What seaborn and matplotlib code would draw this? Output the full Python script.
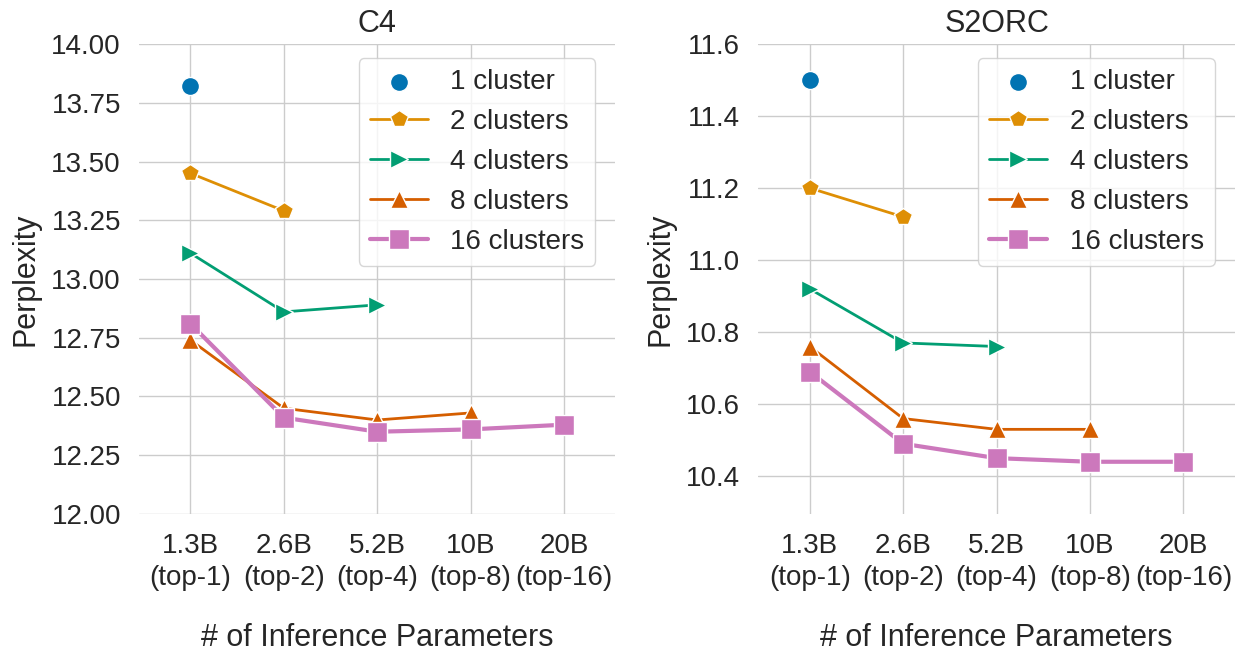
import numpy as np
import pandas as pd
import matplotlib
matplotlib.use("Agg")
import matplotlib.pyplot as plt
import seaborn as sns

x_labels = ["1.3B\n(top-1)", "2.6B\n(top-2)", "5.2B\n(top-4)", "10B\n(top-8)", "20B\n(top-16)"]
series_names = ["1 cluster", "2 clusters", "4 clusters", "8 clusters", "16 clusters"]

c4_1 = [13.82]
c4_2 = [13.45, 13.29]
c4_4 = [13.11, 12.86, 12.89]
c4_8 = [12.74, 12.45, 12.40, 12.43]
c4_16 = [12.81, 12.41, 12.35, 12.36, 12.38]

s2_1 = [11.50]
s2_2 = [11.20, 11.12]
s2_4 = [10.92, 10.77, 10.76]
s2_8 = [10.76, 10.56, 10.53, 10.53]
s2_16 = [10.69, 10.49, 10.45, 10.44, 10.44]

c4_ticks = [12.00, 12.25, 12.50, 12.75, 13.00, 13.25, 13.50, 13.75, 14.00]
s2_ticks = [10.4, 10.6, 10.8, 11.0, 11.2, 11.4, 11.6]

sns.set_theme(style="whitegrid", palette="colorblind")
plt.rcParams["font.family"] = ["Liberation Sans", "DejaVu Sans"]

colors = sns.color_palette("colorblind")
markers = ["o", "p", ">", "^", "s"]
lws = [2.0, 2.0, 2.0, 2.0, 3.0]
msizes = [13, 13, 13, 13, 14]

fig, axes = plt.subplots(1, 2, figsize=(12.36, 6.53), dpi=100)
fig.subplots_adjust(left=0.1125, right=0.999, top=0.9326, bottom=0.2129, wspace=0.30)


def draw(ax, data, title, ticks, ylim, fmt):
    for i, (name, vals) in enumerate(zip(series_names, data)):
        df = pd.DataFrame({"x": np.arange(len(vals)), "y": vals})
        if len(vals) == 1:
            sns.scatterplot(data=df, x="x", y="y", ax=ax, color=colors[i], marker=markers[i],
                            s=msizes[i] ** 2, edgecolor="white", linewidth=1, label=name, zorder=3)
        else:
            sns.lineplot(data=df, x="x", y="y", ax=ax, color=colors[i], marker=markers[i],
                         markersize=msizes[i], markeredgecolor="white", markeredgewidth=1,
                         linewidth=lws[i], label=name, zorder=3)
    ax.set_title(title, fontsize=22, pad=9)
    ax.set_xticks(range(len(x_labels)))
    ax.set_xticklabels(x_labels, fontsize=20, linespacing=1.3)
    ax.set_yticks(ticks)
    ax.set_yticklabels([fmt.format(t) for t in ticks], fontsize=20)
    ax.set_ylim(*ylim)
    ax.set_xlim(-0.55, 4.55)
    ax.set_xlabel("# of Inference Parameters", fontsize=22, labelpad=23)
    ax.set_ylabel("Perplexity", fontsize=22, labelpad=8)
    ax.tick_params(axis="y", length=0, pad=13)
    ax.tick_params(axis="x", length=0, pad=14)
    sns.despine(ax=ax, left=True, bottom=True)
    ax.legend(loc="upper right", fontsize=20, frameon=True, handlelength=2.1,
              bbox_to_anchor=(0.958, 0.970), borderaxespad=0)


draw(axes[0], [c4_1, c4_2, c4_4, c4_8, c4_16], "C4", c4_ticks, (12.0, 14.0), "{:.2f}")
draw(axes[1], [s2_1, s2_2, s2_4, s2_8, s2_16], "S2ORC", s2_ticks, (10.295, 11.6), "{:.1f}")

fig.savefig("out.png", dpi=100)
